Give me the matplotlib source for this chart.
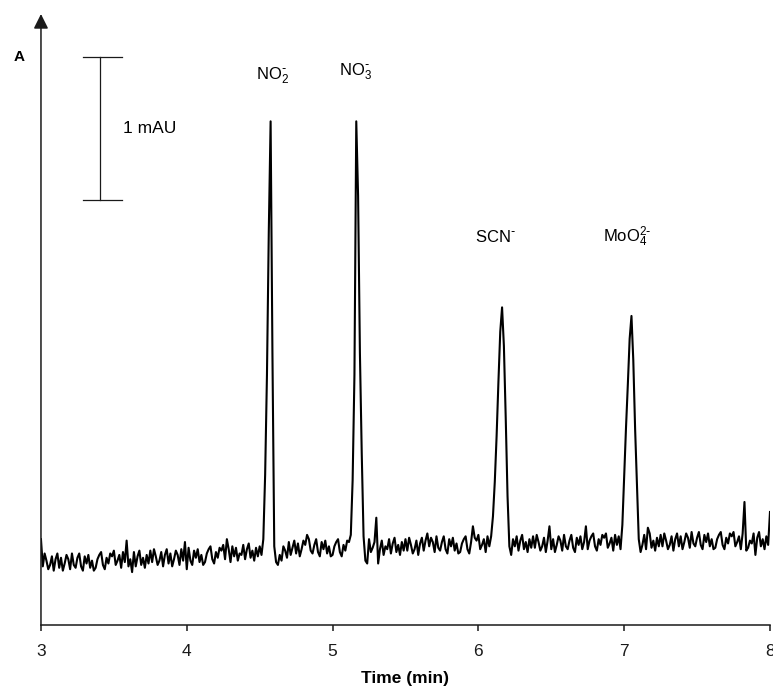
"""Electropherogram of NO2-, NO3-, SCN- and MoO4 2- with a 1 mAU scale bar.

Usage:
    python plot.py
"""
import matplotlib

matplotlib.use("Agg")
import matplotlib.pyplot as plt
import numpy as np

OUT_PATH = "out.png"

# detector trace, sampled every 0.0125 min from 3 to 8 min (values in mAU)
TIME_START = 3.0
TIME_STEP = 0.0125
ABSORBANCE_MAU = [
    0.60, 0.41, 0.50, 0.45, 0.39, 0.42, 0.48, 0.38, 0.46, 0.50,
    0.40, 0.47, 0.38, 0.43, 0.49, 0.46, 0.39, 0.50, 0.42, 0.40,
    0.47, 0.50, 0.41, 0.38, 0.48, 0.43, 0.49, 0.40, 0.45, 0.38,
    0.40, 0.46, 0.49, 0.51, 0.42, 0.39, 0.47, 0.43, 0.50, 0.48,
    0.52, 0.42, 0.45, 0.49, 0.40, 0.51, 0.44, 0.59, 0.41, 0.46,
    0.37, 0.51, 0.41, 0.48, 0.52, 0.42, 0.47, 0.40, 0.49, 0.43,
    0.52, 0.44, 0.53, 0.48, 0.42, 0.45, 0.51, 0.41, 0.49, 0.53,
    0.43, 0.50, 0.41, 0.46, 0.52, 0.49, 0.42, 0.53, 0.45, 0.58,
    0.39, 0.54, 0.45, 0.42, 0.52, 0.47, 0.53, 0.44, 0.49, 0.42,
    0.44, 0.50, 0.53, 0.55, 0.46, 0.43, 0.51, 0.47, 0.54, 0.52,
    0.56, 0.46, 0.60, 0.53, 0.44, 0.55, 0.48, 0.54, 0.45, 0.50,
    0.49, 0.56, 0.46, 0.53, 0.57, 0.47, 0.52, 0.45, 0.54, 0.48,
    0.55, 0.49, 0.60, 1.05, 1.75, 2.75, 3.52, 1.90, 0.55, 0.44,
    0.42, 0.49, 0.45, 0.55, 0.52, 0.47, 0.58, 0.49, 0.54, 0.59,
    0.50, 0.57, 0.48, 0.53, 0.59, 0.56, 0.63, 0.60, 0.52, 0.50,
    0.56, 0.60, 0.51, 0.48, 0.58, 0.53, 0.59, 0.50, 0.55, 0.48,
    0.49, 0.55, 0.58, 0.60, 0.51, 0.48, 0.56, 0.52, 0.59, 0.58,
    0.63, 1.01, 1.75, 3.52, 3.00, 1.90, 1.20, 0.62, 0.45, 0.43,
    0.60, 0.51, 0.54, 0.58, 0.75, 0.43, 0.53, 0.59, 0.49, 0.55,
    0.53, 0.60, 0.50, 0.57, 0.61, 0.51, 0.56, 0.49, 0.58, 0.52,
    0.60, 0.52, 0.61, 0.56, 0.50, 0.53, 0.59, 0.49, 0.57, 0.61,
    0.52, 0.59, 0.64, 0.55, 0.61, 0.58, 0.51, 0.62, 0.54, 0.52,
    0.58, 0.62, 0.53, 0.50, 0.60, 0.55, 0.61, 0.52, 0.57, 0.50,
    0.51, 0.57, 0.60, 0.62, 0.53, 0.50, 0.58, 0.69, 0.61, 0.59,
    0.63, 0.53, 0.56, 0.60, 0.51, 0.62, 0.55, 0.62, 0.76, 1.00,
    1.32, 1.70, 2.05, 2.22, 1.95, 1.45, 0.90, 0.55, 0.49, 0.60,
    0.55, 0.62, 0.52, 0.59, 0.63, 0.53, 0.58, 0.51, 0.60, 0.54,
    0.62, 0.54, 0.63, 0.58, 0.52, 0.55, 0.61, 0.51, 0.59, 0.69,
    0.53, 0.60, 0.51, 0.56, 0.62, 0.59, 0.52, 0.63, 0.55, 0.53,
    0.59, 0.63, 0.54, 0.51, 0.61, 0.56, 0.62, 0.53, 0.58, 0.69,
    0.53, 0.59, 0.62, 0.64, 0.55, 0.52, 0.60, 0.56, 0.63, 0.61,
    0.64, 0.54, 0.57, 0.61, 0.52, 0.63, 0.56, 0.62, 0.53, 0.70,
    1.05, 1.38, 1.68, 2.00, 2.16, 1.85, 1.37, 0.98, 0.60, 0.51,
    0.56, 0.63, 0.53, 0.68, 0.64, 0.54, 0.59, 0.52, 0.61, 0.55,
    0.63, 0.55, 0.64, 0.59, 0.53, 0.56, 0.62, 0.52, 0.60, 0.64,
    0.55, 0.62, 0.53, 0.58, 0.64, 0.61, 0.54, 0.65, 0.57, 0.55,
    0.61, 0.65, 0.56, 0.53, 0.63, 0.58, 0.64, 0.55, 0.60, 0.53,
    0.54, 0.60, 0.63, 0.65, 0.56, 0.53, 0.61, 0.57, 0.64, 0.62,
    0.65, 0.55, 0.58, 0.62, 0.53, 0.64, 0.86, 0.52, 0.54, 0.59,
    0.57, 0.64, 0.49, 0.61, 0.65, 0.55, 0.60, 0.53, 0.62, 0.56,
    0.79,
]

# peak labels: text, migration time (min), label height (mAU)
PEAK_LABELS = [r"NO$_2^{\text{-}}$", r"NO$_3^{\text{-}}$", r"SCN$^{\text{-}}$", r"MoO$_4^{2\text{-}}$"]
PEAK_LABEL_TIMES = [4.585, 5.155, 6.115, 7.02]
PEAK_LABEL_LEVELS = [3.84, 3.87, 2.71, 2.71]

X_TICKS = [3, 4, 5, 6, 7, 8]
SCALE_BAR_MAU = 1.0

CHART_STYLE = {
    "font.family": ["Liberation Sans", "DejaVu Sans"],
    "mathtext.default": "regular",
    "axes.edgecolor": "#1a1a1a",
    "axes.linewidth": 1.1,
    "xtick.color": "#1a1a1a",
}


def plot_trace():
    plt.rcParams.update(CHART_STYLE)
    absorbance = np.array(ABSORBANCE_MAU)
    time_min = TIME_START + TIME_STEP * np.arange(len(absorbance))

    fig = plt.figure(figsize=(7.73, 6.87), dpi=100)
    ax = fig.add_axes([0.053, 0.0902, 0.9431, 0.8894])
    ax.plot(time_min, absorbance, color="#000000", linewidth=1.5)

    ax.set_xlim(3, 8)
    ax.set_ylim(0, 4.27)
    ax.set_xticks(X_TICKS)
    ax.tick_params(axis="x", direction="out", length=4.5, width=1.1, labelsize=12.5, pad=9)
    ax.set_yticks([])
    ax.set_xlabel("Time (min)", fontsize=12.5, fontweight="bold", labelpad=9)
    for spine in ("top", "right", "left"):
        ax.spines[spine].set_visible(False)

    # y axis drawn as an arrow
    ax.annotate("", xy=(0, 1), xytext=(0, 0), xycoords="axes fraction",
                arrowprops=dict(arrowstyle="-|>", color="#1a1a1a", lw=1.1,
                                mutation_scale=22, shrinkA=0, shrinkB=0))
    fig.text(0.0246, 0.917, "A", fontsize=11, fontweight="bold", ha="center", va="center")

    # 1 mAU scale bar
    bar_x, bar_top = 3.405, 3.97
    ax.plot([bar_x, bar_x], [bar_top - SCALE_BAR_MAU, bar_top], color="#1a1a1a", lw=0.9)
    for y in (bar_top - SCALE_BAR_MAU, bar_top):
        ax.plot([3.29, 3.555], [y, y], color="#1a1a1a", lw=0.9)
    ax.text(3.565, bar_top - SCALE_BAR_MAU / 2, f"{SCALE_BAR_MAU:g} mAU", fontsize=12.5,
            ha="left", va="center")

    for label, t, level in zip(PEAK_LABELS, PEAK_LABEL_TIMES, PEAK_LABEL_LEVELS):
        ax.text(t, level, label, fontsize=12, ha="center", va="center")

    fig.savefig(OUT_PATH, dpi=100)
    plt.close(fig)
    print(f"saved {OUT_PATH}")


if __name__ == "__main__":
    plot_trace()
